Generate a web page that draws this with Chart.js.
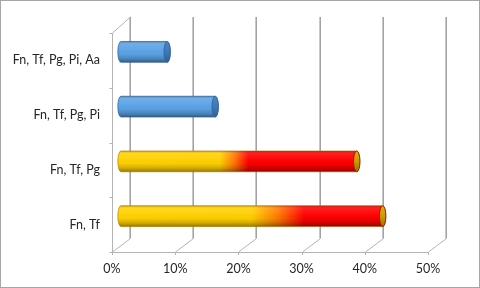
<!DOCTYPE html>
<html><head><meta charset="utf-8">
<script src="https://cdn.jsdelivr.net/npm/chart.js@4/dist/chart.umd.min.js"></script>
<style>html,body{margin:0;padding:0;background:#fff}</style>
</head><body>
<canvas id="c" width="480" height="288"></canvas>
<script>
const categories = ["Fn, Tf, Pg, Pi, Aa", "Fn, Tf, Pg, Pi", "Fn, Tf, Pg", "Fn, Tf"];
const values = [7.3, 14.9, 37.3, 41.4];
const xTicks = [0, 10, 20, 30, 40, 50];
const barStyles = ["blue", "blue", "fire", "fire"];
const fireStops = [null, null, [0.42, 0.54], [0.50, 0.70]];

const FONT = {family: 'Lato', size: 12.5};
const DX = 18;

const frame = {
  id: 'frame',
  beforeDatasetsDraw(chart) {
    const {ctx, chartArea: a, scales: {x, y}} = chart;
    const topBack = a.top - 16, botBack = a.bottom - 13.5;
    ctx.save();
    ctx.lineCap = 'butt';
    // back wall vertical gridlines
    ctx.strokeStyle = '#a3a3a3'; ctx.lineWidth = 1.6;
    xTicks.forEach(v => {
      const px = Math.round(x.getPixelForValue(v) + DX) + 0.2;
      ctx.beginPath(); ctx.moveTo(px, topBack); ctx.lineTo(px, botBack); ctx.stroke();
    });
    ctx.strokeStyle = '#b3b3b3'; ctx.lineWidth = 1;
    xTicks.forEach(v => {
      const px = Math.round(x.getPixelForValue(v)) + 0.5;
      ctx.beginPath(); ctx.moveTo(px, a.bottom); ctx.lineTo(px + DX, botBack); ctx.stroke();
      ctx.beginPath(); ctx.moveTo(px, a.bottom); ctx.lineTo(px, a.bottom + 3); ctx.stroke();
    });
    const lx = Math.round(a.left) + 0.5;
    ctx.beginPath(); ctx.moveTo(lx, Math.round(a.bottom) + 0.5); ctx.lineTo(Math.round(x.getPixelForValue(50)) + 0.5, Math.round(a.bottom) + 0.5); ctx.stroke();
    ctx.beginPath(); ctx.moveTo(lx, a.top); ctx.lineTo(lx, a.bottom); ctx.stroke();
    ctx.beginPath(); ctx.moveTo(lx, a.top); ctx.lineTo(lx + DX, topBack); ctx.stroke();
    for (let i = 0; i <= categories.length; i++) {
      const py = Math.round(y.getPixelForValue(i - 0.5)) + 0.5;
      ctx.beginPath(); ctx.moveTo(lx - 3, py); ctx.lineTo(lx, py); ctx.stroke();
    }
    ctx.restore();
  }
};

function cylinderPath(ctx, x0, x1, yc, r, rx) {
  ctx.beginPath();
  ctx.moveTo(x1, yc - r);
  ctx.lineTo(x0, yc - r);
  ctx.ellipse(x0, yc, rx, r, 0, -Math.PI / 2, Math.PI / 2, true);
  ctx.lineTo(x1, yc + r);
  ctx.ellipse(x1, yc, rx, r, 0, Math.PI / 2, -Math.PI / 2, true);
  ctx.closePath();
}

const bars = {
  id: 'bars',
  afterDatasetsDraw(chart) {
    const {ctx} = chart;
    const meta = chart.getDatasetMeta(0);
    const BDX = DX / 2, BDY = -8.5;
    meta.data.forEach((el, i) => {
      const x0 = el.base + BDX, x1 = el.x + BDX, yc = el.y + BDY;
      const r = el.height / 2, rx = 3.2;
      const top = yc - r, bot = yc + r;
      ctx.save();
      cylinderPath(ctx, x0, x1, yc, r, rx);
      let hg = ctx.createLinearGradient(x0, 0, x1, 0);
      if (barStyles[i] === 'blue') {
        hg.addColorStop(0, '#5ba3e6'); hg.addColorStop(1, '#5ba3e6');
      } else {
        const s = fireStops[i];
        hg.addColorStop(0, '#ffd200');
        hg.addColorStop(s[0], '#ffd000');
        hg.addColorStop((s[0] + s[1]) / 2, '#ff7a00');
        hg.addColorStop(s[1], '#ff0000');
        hg.addColorStop(1, '#ff0000');
      }
      ctx.fillStyle = hg; ctx.fill();
      ctx.save();
      ctx.clip();
      const vg = ctx.createLinearGradient(0, top, 0, bot);
      vg.addColorStop(0, 'rgba(60,30,0,0.28)');
      vg.addColorStop(0.12, 'rgba(255,255,255,0.12)');
      vg.addColorStop(0.35, 'rgba(255,255,255,0.05)');
      vg.addColorStop(0.6, 'rgba(0,0,0,0.02)');
      vg.addColorStop(0.82, 'rgba(0,0,0,0.18)');
      vg.addColorStop(1, 'rgba(0,0,0,0.42)');
      ctx.fillStyle = vg;
      ctx.fillRect(x0 - rx - 2, top - 1, x1 - x0 + 2 * rx + 4, bot - top + 2);
      ctx.restore();
      ctx.lineWidth = 0.8;
      ctx.strokeStyle = barStyles[i] === 'blue' ? 'rgba(40,90,150,0.85)' : 'rgba(170,110,0,0.75)';
      ctx.stroke();
      // end cap
      ctx.beginPath();
      ctx.ellipse(x1, yc, rx, r, 0, 0, Math.PI * 2);
      const cg = ctx.createLinearGradient(0, top, 0, bot);
      if (barStyles[i] === 'blue') {
        cg.addColorStop(0, '#4a86c6'); cg.addColorStop(0.5, '#3f79b6'); cg.addColorStop(1, '#2d5f96');
        ctx.strokeStyle = '#2f639c';
      } else {
        cg.addColorStop(0, '#e2ac10'); cg.addColorStop(0.5, '#cf9a00'); cg.addColorStop(1, '#a07000');
        ctx.strokeStyle = '#8a1000';
      }
      ctx.fillStyle = cg; ctx.fill();
      ctx.lineWidth = 0.8; ctx.stroke();
      ctx.restore();
    });
  }
};

const border = {
  id: 'border',
  afterDraw(chart) {
    const ctx = chart.ctx;
    ctx.save();
    ctx.strokeStyle = '#a6a6a6'; ctx.lineWidth = 1;
    ctx.strokeRect(0.5, 0.5, 479, 287);
    ctx.restore();
  }
};

new Chart(document.getElementById('c'), {
  type: 'bar',
  data: {
    labels: categories,
    datasets: [{
      data: values,
      backgroundColor: 'rgba(0,0,0,0)',
      borderWidth: 0,
      barPercentage: 0.38,
      categoryPercentage: 1
    }]
  },
  options: {
    indexAxis: 'y',
    responsive: false,
    animation: false,
    devicePixelRatio: 1,
    layout: {padding: {top: 33, right: 52, left: 0, bottom: 0}},
    plugins: {legend: {display: false}, tooltip: {enabled: false}},
    scales: {
      x: {
        min: 0, max: 50,
        afterBuildTicks(s) { s.ticks = xTicks.map(v => ({value: v})); },
        grid: {display: false, drawTicks: false},
        border: {display: false},
        ticks: {callback: v => v + '%', padding: 9, color: '#262626', font: FONT, maxRotation: 0},
        afterFit(s) { s.height = 36; }
      },
      y: {
        grid: {display: false, drawTicks: false},
        border: {display: false},
        ticks: {padding: 12, color: '#262626', font: FONT},
        afterFit(s) { s.width = 112; }
      }
    }
  },
  plugins: [frame, bars, border]
});
</script>
</body></html>
